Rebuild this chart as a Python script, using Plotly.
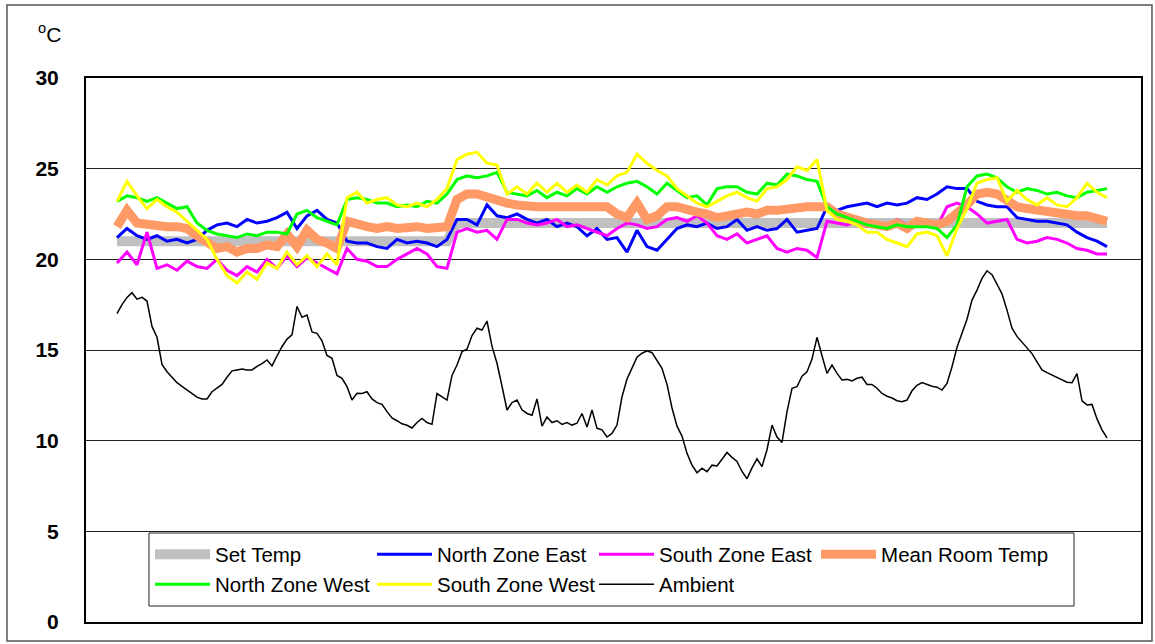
import plotly.graph_objects as go

# ---- data ----
time_main = list(range(100))               # regular sample index for the room series
time_ambient = [k / 2 for k in range(199)]  # ambient sampled twice as often

set_temp = [21.0, 21.0, 21.0, 21.0, 21.0, 21.0, 21.0, 21.0, 21.0, 21.0,
            21.0, 21.0, 21.0, 21.0, 21.0, 21.0, 21.0, 21.0, 21.0, 21.0,
            21.0, 21.0, 21.0, 21.0, 21.0, 21.0, 21.0, 21.0, 21.0, 21.0,
            21.0, 21.0, 21.0, 21.0, 22.0, 22.0, 22.0, 22.0, 22.0, 22.0,
            22.0, 22.0, 22.0, 22.0, 22.0, 22.0, 22.0, 22.0, 22.0, 22.0,
            22.0, 22.0, 22.0, 22.0, 22.0, 22.0, 22.0, 22.0, 22.0, 22.0,
            22.0, 22.0, 22.0, 22.0, 22.0, 22.0, 22.0, 22.0, 22.0, 22.0,
            22.0, 22.0, 22.0, 22.0, 22.0, 22.0, 22.0, 22.0, 22.0, 22.0,
            22.0, 22.0, 22.0, 22.0, 22.0, 22.0, 22.0, 22.0, 22.0, 22.0,
            22.0, 22.0, 22.0, 22.0, 22.0, 22.0, 22.0, 22.0, 22.0, 22.0]

north_east = [21.2, 21.7, 21.3, 21.1, 21.3, 21.0, 21.1, 20.9, 21.1, 21.6,
              21.9, 22.0, 21.8, 22.2, 22.0, 22.1, 22.3, 22.6, 21.7, 22.4,
              22.7, 22.2, 22.0, 21.0, 20.9, 20.9, 20.7,
              20.6, 21.1, 20.9, 21.0, 20.9, 20.7, 21.1, 22.2, 22.2, 21.9,
              23.0, 22.4, 22.3, 22.5, 22.2, 22.0, 22.2, 21.8, 22.0, 21.8,
              21.3, 21.7, 21.1, 21.2, 20.4, 21.6, 20.7, 20.5,
              21.1, 21.7, 21.9, 21.8, 22.0, 21.7, 21.8, 22.2, 21.6, 21.8,
              21.6, 21.7, 22.2, 21.5, 21.6, 21.7, 22.9, 22.7, 22.9, 23.0,
              23.1, 22.9, 23.1, 23.0, 23.1, 23.4, 23.3, 23.6, 24.0, 23.9,
              23.9, 23.2, 23.0, 22.9, 22.9, 22.3, 22.2, 22.1, 22.1, 22.0,
              21.9, 21.5, 21.2, 21.0, 20.7]

south_east = [19.8, 20.4, 19.7, 21.5, 19.5, 19.7, 19.4, 19.9, 19.6, 19.5,
              20.0, 19.4, 19.1, 19.6, 19.3, 20.0, 19.5, 20.2, 19.6, 20.1,
              19.8, 19.5, 19.2, 20.6, 20.0, 19.9, 19.6,
              19.6, 20.0, 20.3, 20.6, 20.3, 19.6, 19.5, 21.5, 21.7, 21.5,
              21.6, 21.1, 22.2, 22.2, 22.0, 21.9, 22.0, 22.2, 21.8, 21.9,
              21.7, 21.5, 21.3, 21.7, 22.0, 21.9, 21.7, 21.8,
              22.2, 22.3, 22.1, 22.4, 22.0, 21.3, 21.1, 21.4, 20.9, 21.1,
              21.3, 20.6, 20.4, 20.6, 20.5, 20.1, 22.1, 22.0, 21.9, 22.1,
              21.8, 22.0, 21.8, 22.2, 21.9, 22.1, 22.0, 21.8, 22.9, 23.1,
              22.9, 22.5, 22.0, 22.1, 22.2, 21.1, 20.9, 21.0, 21.2, 21.1,
              20.9, 20.6, 20.5, 20.3, 20.3]

mean_room = [21.8, 22.7, 22.0, 21.9, 21.9, 21.8, 21.8, 21.7, 21.3, 20.9,
             20.6, 20.7, 20.4, 20.6, 20.6, 20.8, 20.7, 21.4, 20.7, 21.6,
             21.1, 20.9, 20.6, 22.1, 21.9, 21.8, 21.7,
             21.8, 21.7, 21.8, 21.8, 21.7, 21.8, 21.8, 23.3, 23.6, 23.6,
             23.4, 23.3, 23.1, 23.0, 22.9, 22.9, 22.9, 22.9, 22.8, 22.9,
             22.8, 22.8, 22.9, 22.5, 22.3, 23.1, 22.2, 22.4,
             22.9, 22.9, 22.7, 22.6, 22.5, 22.3, 22.4, 22.5, 22.6, 22.5,
             22.7, 22.7, 22.8, 22.9, 22.9, 22.9, 22.9, 22.5, 22.3, 22.2,
             22.0, 21.9, 21.8, 22.0, 21.7, 22.1, 22.0, 21.9, 22.1, 22.5,
             23.0, 23.6, 23.7, 23.6, 23.2, 22.9, 22.8, 22.7, 22.6, 22.5,
             22.5, 22.4, 22.4, 22.2, 22.1]

north_west = [23.2, 23.5, 23.4, 23.2, 23.4, 23.1, 22.8, 22.9, 22.0, 21.6,
              21.4, 21.3, 21.2, 21.4, 21.3, 21.5, 21.5, 21.4, 22.5, 22.7,
              22.3, 22.1, 21.9, 23.3, 23.4, 23.3, 23.1,
              23.1, 22.9, 23.0, 22.9, 23.2, 23.1, 23.6, 24.4, 24.6, 24.5,
              24.6, 24.8, 23.7, 23.6, 23.5, 23.8, 23.4, 23.7, 23.5, 23.9,
              23.6, 24.0, 23.7, 24.0, 24.2, 24.3, 24.0, 23.6,
              24.2, 23.8, 23.4, 23.5, 23.0, 23.9, 24.0, 24.0, 23.7, 23.6,
              24.2, 24.1, 24.7, 24.6, 24.4, 24.3, 22.9, 22.5, 22.3, 22.1,
              21.9, 21.8, 21.7, 21.9, 21.8, 21.8, 21.8, 21.7, 21.2, 21.9,
              24.0, 24.6, 24.7, 24.5, 24.0, 23.7, 23.9, 23.8, 23.6, 23.7,
              23.5, 23.4, 23.7, 23.8, 23.9]

south_west = [23.2, 24.3, 23.5, 22.8, 23.3, 22.9, 22.6, 22.1, 21.6, 21.1,
              20.0, 19.1, 18.7, 19.3, 18.9, 19.8, 19.5, 20.4, 19.7, 20.2,
              19.6, 20.3, 19.7, 23.4, 23.7, 23.1, 23.3,
              23.4, 23.0, 22.9, 23.1, 22.9, 23.3, 23.9, 25.5, 25.8, 25.9,
              25.3, 25.2, 23.6, 24.0, 23.6, 24.2, 23.7, 24.2, 23.7, 24.1,
              23.7, 24.4, 24.1, 24.6, 24.8, 25.8, 25.3, 24.9,
              24.6, 23.9, 23.5, 23.1, 22.9, 23.2, 23.5, 23.7, 23.4, 23.2,
              23.9, 24.0, 24.4, 25.1, 24.9, 25.5, 22.7, 22.2, 22.1, 21.9,
              21.5, 21.5, 21.1, 20.9, 20.7, 21.4, 21.5, 21.3, 20.2, 21.7,
              22.8, 24.2, 24.4, 24.5, 23.2, 23.8, 23.3, 23.0, 23.4, 23.0,
              22.9, 23.4, 24.2, 23.7, 23.4]

ambient = [17.0, 17.5, 17.9, 18.16, 17.8, 17.9, 17.7, 16.3, 15.7, 14.2,
           13.8, 13.5, 13.2, 13.0, 12.8, 12.6, 12.4, 12.3, 12.3, 12.7,
           12.9, 13.1, 13.5, 13.85, 13.9, 13.95, 13.9, 13.9, 14.1, 14.25,
           14.45, 14.12, 14.67, 15.18, 15.6, 15.83, 17.4, 16.8, 16.93, 16.0,
           15.92, 15.5, 14.7, 14.54, 13.6, 13.44, 12.98, 12.24, 12.61, 12.6,
           12.7, 12.3, 12.1, 12.0, 11.6, 11.25, 11.1, 10.93, 10.85, 10.7,
           11.0, 11.23, 11.0, 10.9, 12.6, 12.4, 12.24, 13.6, 14.17, 14.91,
           15.04, 15.8, 16.2, 16.1, 16.6, 15.2, 14.27, 13.0, 11.69, 12.1,
           12.24, 11.7, 11.5, 11.4, 12.3, 10.8, 11.3, 11.0, 11.1, 10.9,
           11.0, 10.86, 10.96, 11.5, 10.75, 11.69, 10.68, 10.6, 10.2, 10.4,
           10.86, 12.42, 13.4, 14.0, 14.6, 14.82, 14.95, 14.85, 14.4, 13.99,
           13.1, 11.8, 10.8, 10.25, 9.3, 8.65, 8.23, 8.48, 8.29, 8.65,
           8.6, 9.0, 9.35, 9.08, 8.85, 8.3, 7.9, 8.5, 9.0, 8.57,
           9.5, 10.86, 10.2, 9.9, 11.6, 12.89, 12.98, 13.55, 13.8, 14.5,
           15.7, 14.68, 13.71, 14.17, 13.71, 13.35, 13.38, 13.29, 13.44, 13.5,
           13.1, 13.1, 12.89, 12.6, 12.45, 12.35, 12.2, 12.15, 12.24, 12.75,
           13.05, 13.2, 13.1, 13.0, 12.95, 12.79, 13.16, 14.08, 15.15, 15.92,
           16.7, 17.75, 18.3, 18.95, 19.37, 19.15, 18.65, 18.1, 17.2, 16.2,
           15.75, 15.45, 15.15, 14.8, 14.35, 13.9, 13.75, 13.62, 13.48, 13.35,
           13.22, 13.2, 13.7, 12.2, 11.97, 12.0, 11.2, 10.6, 10.15]

y_ticks = [0, 5, 10, 15, 20, 25, 30]

FONT = "Liberation Sans, Arial, sans-serif"

# ---- figure ----
fig = go.Figure()
fig.add_trace(go.Scatter(x=time_main, y=set_temp, mode="lines", name="Set Temp",
                         line=dict(color="#C0C0C0", width=10), legend="legend"))
fig.add_trace(go.Scatter(x=time_main, y=north_east, mode="lines", name="North Zone East",
                         line=dict(color="#0000FF", width=3), legend="legend"))
fig.add_trace(go.Scatter(x=time_main, y=south_east, mode="lines", name="South Zone East",
                         line=dict(color="#FF00FF", width=3), legend="legend"))
fig.add_trace(go.Scatter(x=time_main, y=mean_room, mode="lines", name="Mean Room Temp",
                         line=dict(color="#FF9966", width=9), legend="legend3"))
fig.add_trace(go.Scatter(x=time_main, y=north_west, mode="lines", name="North Zone West",
                         line=dict(color="#00FF00", width=3), legend="legend2"))
fig.add_trace(go.Scatter(x=time_main, y=south_west, mode="lines", name="South Zone West",
                         line=dict(color="#FFFF00", width=3), legend="legend2"))
fig.add_trace(go.Scatter(x=time_ambient, y=ambient, mode="lines", name="Ambient",
                         line=dict(color="#000000", width=1.5), legend="legend2"))

leg_common = dict(orientation="h", xanchor="left", yanchor="top",
                  borderwidth=0, bgcolor="rgba(0,0,0,0)",
                  itemwidth=55, traceorder="normal",
                  font=dict(family=FONT, size=20.5))

fig.update_layout(
    width=1155, height=644,
    margin=dict(l=86, r=14, t=78, b=22),
    paper_bgcolor="white", plot_bgcolor="white",
    font=dict(family=FONT, size=17, color="black"),
    showlegend=True,
    legend=dict(x=0.0607, y=0.1608, entrywidth=152, **leg_common),
    legend2=dict(x=0.0607, y=0.1057, entrywidth=152, **leg_common),
    legend3=dict(x=0.692, y=0.1608, **leg_common),
    xaxis=dict(range=[-3.1, 102.4], showgrid=False, zeroline=False, showticklabels=False,
               ticks="", showline=True, linecolor="black", linewidth=2, mirror=True),
    yaxis=dict(range=[0, 30], tickvals=y_ticks, ticktext=[str(v) for v in y_ticks],
               showgrid=True, gridcolor="#222222", gridwidth=1, zeroline=False,
               showline=True, linecolor="black", linewidth=2, mirror=True,
               ticks="", ticklabelstandoff=21,
               tickfont=dict(family=FONT, size=21, color="black", weight="bold")),
    annotations=[dict(text="<sup>o</sup>C", xref="paper", yref="paper",
                      x=-0.035, y=1.083, xanchor="center", yanchor="middle",
                      showarrow=False,
                      font=dict(family=FONT, size=21))],
    shapes=[
        # outer chart frame
        dict(type="rect", xref="paper", yref="paper",
             x0=-0.0749, x1=1.0104, y0=-0.0349, y1=1.1342,
             line=dict(color="#555555", width=1.5), fillcolor="rgba(0,0,0,0)",
             layer="below"),
        # legend frame
        dict(type="rect", xref="paper", yref="paper",
             x0=0.0597, x1=0.9365, y0=0.0294, y1=0.1636,
             line=dict(color="#222222", width=1), fillcolor="white",
             layer="above"),
    ],
)

fig.write_html("out.html")
